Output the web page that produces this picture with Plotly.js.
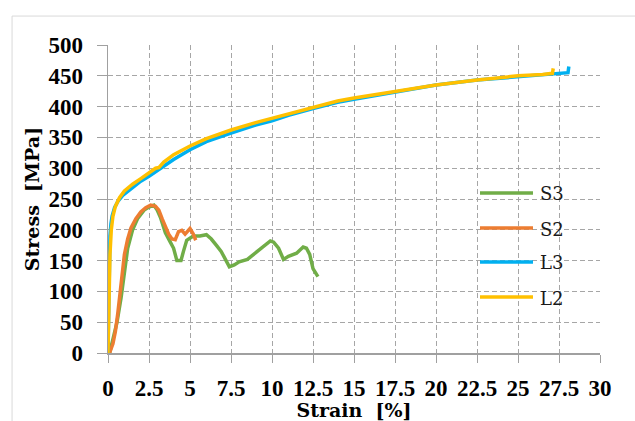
<!DOCTYPE html>
<html>
<head>
<meta charset="utf-8">
<script src="https://cdn.plot.ly/plotly-3.0.1.min.js"></script>
<style>
  html, body { margin: 0; padding: 0; background: #ffffff; }
  #chart { width: 635px; height: 421px; }
</style>
</head>
<body>
<div id="chart"></div>
<script>
// ---- data (strain %, stress MPa) ----
const s3Strain = [0.1, 0.3, 0.55, 0.8, 1.0, 1.2, 1.5, 1.8, 2.2, 2.5, 2.8, 3.0, 3.2, 3.5, 3.8, 4.0, 4.2, 4.45, 4.6, 4.8, 5.2, 5.6, 6.0, 6.3, 6.6, 6.9, 7.2, 7.4, 7.7, 8.0, 8.5, 9.0, 9.5, 9.9, 10.1, 10.4, 10.7, 11.0, 11.5, 11.9, 12.1, 12.3, 12.5, 12.8];
const s3Stress = [0, 20, 50, 90, 130, 170, 200, 218, 232, 237, 240, 232, 220, 195, 180, 170, 150, 150, 165, 183, 190, 190, 192, 185, 175, 165, 150, 140, 143, 148, 152, 163, 175, 182, 180, 170, 152, 157, 162, 172, 170, 160, 137, 124];

const s2Strain = [0, 0.12, 0.3, 0.45, 0.6, 0.75, 0.85, 1.0, 1.2, 1.4, 1.7, 2.0, 2.3, 2.6, 2.9, 3.1, 3.3, 3.5, 3.7, 3.9, 4.1, 4.3, 4.5, 4.7, 4.85, 5.0, 5.2, 5.35];
const s2Stress = [0, 2, 15, 35, 65, 100, 135, 160, 185, 203, 218, 229, 236, 240, 238, 232, 218, 205, 193, 185, 184, 197, 199, 193, 198, 202, 193, 183];

const l3Strain = [0, 0.04, 0.08, 0.12, 0.18, 0.25, 0.4, 0.6, 0.9, 1.3, 2.0, 2.5, 3.0, 4.0, 5.0, 6.0, 7.5, 9.0, 10.0, 11.0, 12.5, 14.0, 15.0, 17.5, 20.0, 22.5, 25.0, 26.5, 27.5, 28.05, 28.1];
const l3Stress = [0, 70, 140, 190, 210, 222, 236, 246, 256, 265, 279, 287, 296, 314, 330, 343, 357, 370, 377, 386, 397, 407, 412, 424, 435, 443, 449, 452, 454, 455, 465];

const l2Strain = [0, 0.05, 0.12, 0.2, 0.3, 0.45, 0.7, 1.0, 1.5, 2.0, 2.5, 2.9, 3.1, 3.4, 4.0, 5.0, 6.0, 7.5, 9.0, 10.0, 11.0, 12.5, 14.0, 15.0, 17.5, 20.0, 22.5, 25.0, 26.5, 27.1, 27.15];
const l2Stress = [0, 80, 160, 200, 222, 238, 252, 263, 274, 283, 292, 300, 301, 310, 322, 336, 348, 362, 374, 381, 389, 399, 409, 414, 425, 435, 443, 450, 452, 454, 462];

const seriesNames = ["S3", "S2", "L3", "L2"];
const xTickVals = [0, 2.5, 5, 7.5, 10, 12.5, 15, 17.5, 20, 22.5, 25, 27.5, 30];
const xTickText = ["0", "2.5", "5", "7.5", "10", "12.5", "15", "17.5", "20", "22.5", "25", "27.5", "30"];
const yTickVals = [0, 50, 100, 150, 200, 250, 300, 350, 400, 450, 500];

const colors = ["#70AD47", "#ED7D31", "#00B0F0", "#FFC000"];
const xs = [s3Strain, s2Strain, l3Strain, l2Strain];
const ys = [s3Stress, s2Stress, l3Stress, l2Stress];

const traces = seriesNames.map((n, i) => ({
  type: "scatter",
  mode: "lines",
  name: n,
  x: xs[i],
  y: ys[i],
  line: { color: colors[i], width: 3.5 },
  hoverinfo: "skip",
  showlegend: false
}));

// hand-built legend (Excel style: long line samples, white box)
const legRowsY = [0.5195, 0.4058, 0.2955, 0.1818];
const shapes = [
  { type: "line", xref: "paper", yref: "paper", x0: -0.195, x1: 1.2, y0: 1.094, y1: 1.094,
    line: { color: "#d9d9d9", width: 1 } },
  { type: "line", xref: "paper", yref: "paper", x0: -0.195, x1: -0.195, y0: 1.094, y1: -0.3,
    line: { color: "#d9d9d9", width: 1 } },
  { type: "rect", xref: "paper", yref: "paper", x0: 0.7297, x1: 0.9451, y0: 0.1299, y1: 0.5714,
    fillcolor: "#ffffff", line: { width: 0 }, layer: "between" }
];
const annotations = [];
seriesNames.forEach((n, i) => {
  shapes.push({ type: "line", xref: "paper", yref: "paper", x0: 0.7561, x1: 0.8638,
    y0: legRowsY[i], y1: legRowsY[i], line: { color: colors[i], width: 3.5 }, layer: "above" });
  annotations.push({ xref: "paper", yref: "paper", x: 0.874, y: legRowsY[i], xanchor: "left", yanchor: "middle",
    text: n, showarrow: false, yshift: -1,
    font: { family: "DejaVu Serif, serif", size: 18, color: "#1a1a1a" } });
});

const tickFont = { family: "Liberation Serif", size: 23, color: "#000000", weight: "bold" };
const titleFont = { family: "DejaVu Serif", size: 19, color: "#000000", weight: "bold" };

const layout = {
  width: 635,
  height: 421,
  margin: { l: 108, r: 35, t: 45, b: 68 },
  paper_bgcolor: "#ffffff",
  plot_bgcolor: "#ffffff",
  showlegend: false,
  xaxis: {
    range: [0, 30],
    tickvals: xTickVals,
    ticktext: xTickText,
    tickfont: tickFont,
    ticks: "outside", ticklen: 8, tickcolor: "#a0a0a0", tickwidth: 1,
    ticklabelstandoff: 6,
    showline: true, linecolor: "#a0a0a0", linewidth: 1.5,
    showgrid: true, gridcolor: "#a6a6a6", gridwidth: 1, griddash: "5px,3px",
    zeroline: false,
    title: { text: "Strain  [%]", font: titleFont, standoff: 9 }
  },
  yaxis: {
    range: [0, 500],
    tickvals: yTickVals,
    tickfont: tickFont,
    ticks: "outside", ticklen: 10, tickcolor: "#a0a0a0", tickwidth: 1,
    ticklabelstandoff: 9,
    showline: true, linecolor: "#a0a0a0", linewidth: 1.5,
    showgrid: true, gridcolor: "#a6a6a6", gridwidth: 1, griddash: "5px,3px",
    zeroline: false,
    title: { text: "Stress  [MPa]", font: titleFont, standoff: 4 }
  },
  shapes: shapes,
  annotations: annotations
};

Plotly.newPlot("chart", traces, layout, { displayModeBar: false, staticPlot: true });
</script>
</body>
</html>
